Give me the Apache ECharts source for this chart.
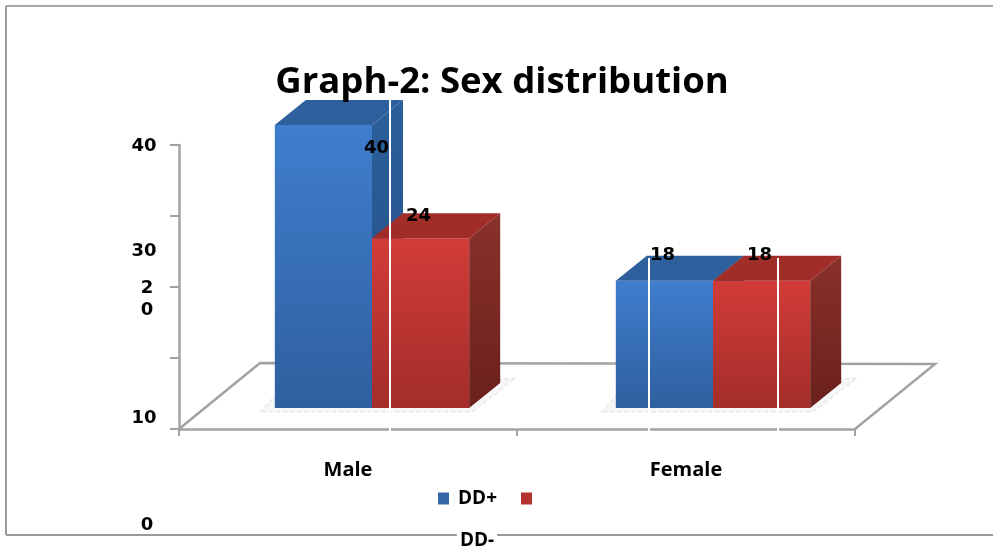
<!DOCTYPE html>
<html>
<head>
<meta charset="utf-8">
<title>Graph-2: Sex distribution</title>
<style>
    html, body { margin: 0; padding: 0; background: #fff; }
    #chart { width: 993px; height: 548px; }
</style>
<script src="https://cdn.jsdelivr.net/npm/echarts@6/dist/echarts.min.js"></script>
</head>
<body>
<div id="chart"></div>
<script>
var categories = ['Male', 'Female'];
var ddPlus = [40, 18];
var ddMinus = [24, 18];
var seriesNames = ['DD+', 'DD-'];
var tickValues = ['40', '30', '2', '0', '10', '0'];

var chartFont = '"DejaVu Sans", sans-serif';
var depthX = 31, depthY = -25;

var blueFaces = { front: ['#3f7ecd', '#2f5f9f'], side: ['#2c5f9b', '#254f83'], top: '#2e609d' };
var redFaces = { front: ['#d23c38', '#a32d2a'], side: ['#8a312b', '#6a201b'], top: '#a12d29' };

function vertical(colors) {
    return new echarts.graphic.LinearGradient(0, 0, 0, 1, [
        {offset: 0, color: colors[0]},
        {offset: 1, color: colors[1]}
    ]);
}

function poly(points, fill) {
    return {type: 'polygon', shape: {points: points}, style: {fill: fill}};
}

// one 3d bar: front, top and right faces worked out from the axis position
function barRenderer(faces, slot, labelShift) {
    return function (params, api) {
        var idx = api.value(0);
        var base = api.coord([idx, 0]);
        var head = api.coord([idx, api.value(1)]);
        var w = api.size([1, 0])[0] * 0.285;
        var x0 = base[0] + slot * w, x1 = x0 + w;
        var shift = labelShift[idx];
        return {
            type: 'group',
            children: [
                poly([[x0, head[1]], [x1, head[1]], [x1, base[1]], [x0, base[1]]], vertical(faces.front)),
                poly([[x0, head[1]], [x0 + depthX, head[1] + depthY], [x1 + depthX, head[1] + depthY], [x1, head[1]]], faces.top),
                poly([[x1, head[1]], [x1 + depthX, head[1] + depthY], [x1 + depthX, base[1] + depthY], [x1, base[1]]], vertical(faces.side)),
                {
                    type: 'text',
                    z2: 10,
                    style: {
                        x: (x0 + x1) / 2 + shift[0],
                        y: head[1] + shift[1],
                        text: String(api.value(1)),
                        fill: '#000',
                        font: 'bold 18px ' + chartFont,
                        align: 'center',
                        verticalAlign: 'middle'
                    }
                }
            ]
        };
    };
}

// pale shadow under each pair of bars
function shadowRenderer(params, api) {
    var base = api.coord([api.value(0), 0]);
    return {
        type: 'polygon',
        shape: {points: [
            [base[0] - 112, base[1] + 4],
            [base[0] - 97, base[1] - 12],
            [base[0] + 144, base[1] - 30],
            [base[0] + 100, base[1] + 4]
        ]},
        style: {fill: '#f6f6f6', stroke: '#dcdcdc', lineWidth: 1, lineDash: [4, 3]}
    };
}

// floor of the 3d box, from the plot rectangle
function floorRenderer(params, api) {
    var c = params.coordSys;
    var bottom = c.y + c.height, right = c.x + c.width;
    return {
        type: 'polyline',
        shape: {points: [
            [c.x, bottom],
            [c.x + 81, bottom - 66],
            [right + 80, bottom - 65],
            [right, bottom]
        ]},
        style: {stroke: '#a3a3a3', lineWidth: 2.5, fill: null}
    };
}

function whiteLine(x, y1, y2) {
    return {
        type: 'line',
        z: 50,
        shape: {x1: x, y1: y1, x2: x, y2: y2},
        style: {stroke: '#fff', lineWidth: 2}
    };
}

function frameLine(x1, y1, x2, y2, color) {
    return {
        type: 'line',
        shape: {x1: x1, y1: y1, x2: x2, y2: y2},
        style: {stroke: color, lineWidth: 2}
    };
}

function sideText(text, x, y) {
    return {
        type: 'text',
        z: 60,
        style: {
            x: x, y: y, text: text, fill: '#000',
            font: 'bold 18px ' + chartFont,
            align: 'center', verticalAlign: 'middle'
        }
    };
}

var chart = echarts.init(document.getElementById('chart'), null, {renderer: 'canvas'});

chart.setOption({
    animation: false,
    backgroundColor: '#fff',
    title: {
        text: 'Graph-2: Sex distribution',
        left: 497,
        top: 59,
        textAlign: 'center',
        textStyle: {fontFamily: '"Open Sans", sans-serif', fontWeight: 'bold', fontSize: 36.5, color: '#000'}
    },
    legend: {
        left: 433,
        top: 484,
        itemWidth: 11,
        itemHeight: 12,
        itemGap: 24,
        icon: 'rect',
        selectedMode: false,
        data: [
            {name: seriesNames[0], itemStyle: {color: '#3568a8'}},
            {name: seriesNames[1], itemStyle: {color: '#b5332f'}}
        ],
        formatter: function (name) {
            return name === seriesNames[0] ? name : '';
        },
        textStyle: {fontFamily: '"Open Sans", sans-serif', fontWeight: 'bold', fontSize: 19, color: '#000', padding: [0, 0, 0, 4]}
    },
    grid: [
        {left: 179, top: 145, width: 676, height: 284},
        {left: 201.5, top: 125, width: 682, height: 283}
    ],
    xAxis: [
        {
            type: 'category',
            gridIndex: 0,
            data: categories,
            axisLine: {lineStyle: {color: '#a3a3a3', width: 2.5}},
            axisTick: {show: true, length: 7, alignWithLabel: false, lineStyle: {color: '#a3a3a3', width: 2}},
            axisLabel: {margin: 31, fontFamily: '"Open Sans", sans-serif', fontWeight: 'bold', fontSize: 20, color: '#000'}
        },
        {type: 'category', gridIndex: 1, data: categories, show: false}
    ],
    yAxis: [
        {
            type: 'value',
            gridIndex: 0,
            min: 0,
            max: 40,
            interval: 10,
            axisLine: {show: true, lineStyle: {color: '#a3a3a3', width: 2.5}},
            axisTick: {show: true, length: 9, lineStyle: {color: '#a3a3a3', width: 2}},
            axisLabel: {show: false},
            splitLine: {show: false}
        },
        {type: 'value', gridIndex: 1, min: 0, max: 40, show: false, splitLine: {show: false}}
    ],
    series: [
        {
            type: 'custom',
            silent: true,
            xAxisIndex: 0,
            yAxisIndex: 0,
            z: 1,
            clip: false,
            data: [[0, 0]],
            renderItem: floorRenderer
        },
        {
            type: 'custom',
            silent: true,
            xAxisIndex: 1,
            yAxisIndex: 1,
            z: 2,
            clip: false,
            data: categories.map(function (c, i) { return [i, 0]; }),
            renderItem: shadowRenderer
        },
        {
            name: seriesNames[0],
            type: 'custom',
            xAxisIndex: 1,
            yAxisIndex: 1,
            z: 3,
            clip: false,
            itemStyle: {color: '#3568a8'},
            data: ddPlus.map(function (v, i) { return [i, v]; }),
            renderItem: barRenderer(blueFaces, -1, [[53, 23], [-2, -25]])
        },
        {
            name: seriesNames[1],
            type: 'custom',
            xAxisIndex: 1,
            yAxisIndex: 1,
            z: 4,
            clip: false,
            itemStyle: {color: '#b5332f'},
            data: ddMinus.map(function (v, i) { return [i, v]; }),
            renderItem: barRenderer(redFaces, 0, [[-2, -22], [-2, -25]])
        }
    ],
    graphic: {
        elements: [
            frameLine(6, 6, 993, 6, '#a8a8a8'),
            frameLine(6, 6, 6, 535, '#9a9a9a'),
            frameLine(6, 535, 993, 535, '#9a9a9a'),
            whiteLine(390, 98, 434),
            whiteLine(649, 258, 434),
            whiteLine(778, 258, 434),
            // the tick labels sit off their ticks in the reference
            sideText(tickValues[0], 144, 146),
            sideText(tickValues[1], 144, 251),
            sideText(tickValues[2], 147, 288),
            sideText(tickValues[3], 147, 310),
            sideText(tickValues[4], 144, 418),
            sideText(tickValues[5], 147, 525),
            {
                type: 'text',
                z: 60,
                style: {
                    x: 477, y: 541, text: seriesNames[1], fill: '#000',
                    backgroundColor: '#fff', padding: [0, 3],
                    font: 'bold 19px "Open Sans", sans-serif',
                    align: 'center', verticalAlign: 'middle'
                }
            }
        ]
    }
});
</script>
</body>
</html>
